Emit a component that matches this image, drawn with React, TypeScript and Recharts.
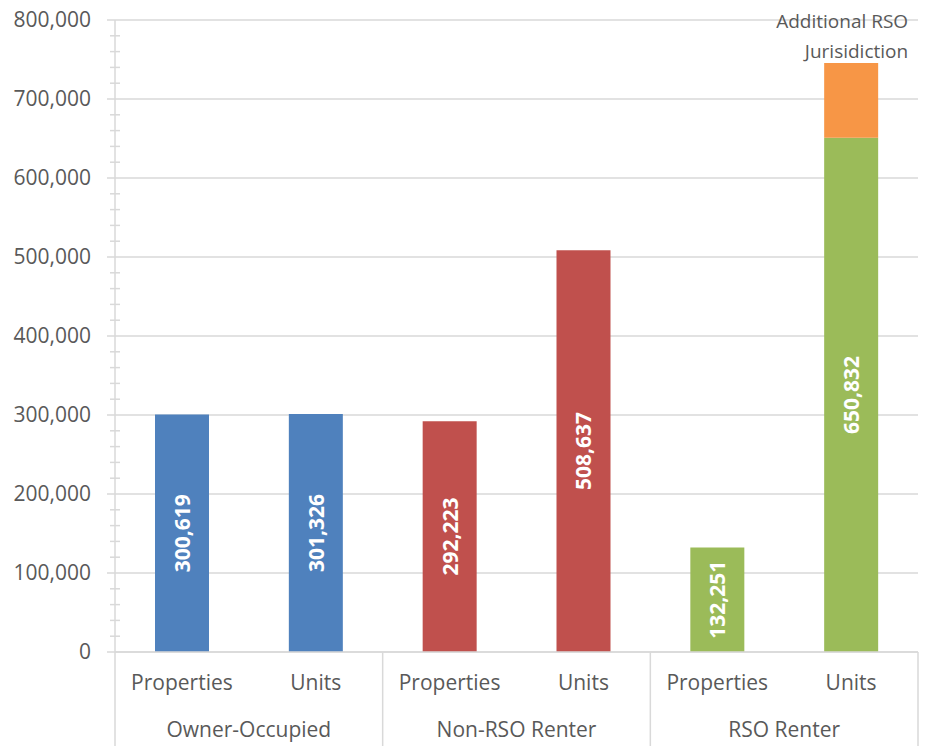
import { BarChart, Bar, XAxis, YAxis, CartesianGrid, Cell, LabelList } from 'recharts';

const categories = ['Properties', 'Units', 'Properties', 'Units', 'Properties', 'Units'];
const groups = ['Owner-Occupied', 'Owner-Occupied', 'Non-RSO Renter', 'Non-RSO Renter', 'RSO Renter', 'RSO Renter'];
const counts = [300619, 301326, 292223, 508637, 132251, 650832];
const additional = [0, 0, 0, 0, 0, 94800];
const barColors = ['#4F81BD', '#4F81BD', '#C0504D', '#C0504D', '#9BBB59', '#9BBB59'];
const majorTicks = [0, 100000, 200000, 300000, 400000, 500000, 600000, 700000, 800000];
const additionalLabel = ['Additional RSO', 'Jurisidiction'];

const minorTicks = majorTicks.flatMap((t, i) =>
  i === majorTicks.length - 1 ? [t] : [t, t + 20000, t + 40000, t + 60000, t + 80000]
);

const data = categories.map((c, i) => ({
  key: `${groups[i]}|${c}`,
  category: c,
  group: groups[i],
  count: counts[i],
  extra: additional[i],
}));

const TEXT = '#595959';
const GRID = '#d9d9d9';
const FONT = '"Open Sans", sans-serif';
const Y_MAX = 800000;

const YTick = (props: any) => {
  const { x, y, payload } = props;
  const v = payload.value as number;
  if (v % 100000 === 0) {
    return (
      <g>
        <line x1={x - 8} x2={x} y1={y} y2={y} stroke={GRID} strokeWidth={1.5} />
        <text x={x - 24} y={y} dy="0.35em" textAnchor="end" fill={TEXT} fontSize={21} fontFamily={FONT}>
          {v.toLocaleString('en-US')}
        </text>
      </g>
    );
  }
  return <line x1={x - 5} x2={x + 5} y1={y} y2={y} stroke={GRID} strokeWidth={1.5} />;
};

const XTick = (props: any) => {
  const { x, y, payload } = props;
  const i = payload.index as number;
  const half = payload.offset || 803 / 12;
  const row = data[i];
  return (
    <g>
      <text x={x} y={y + 38} textAnchor="middle" fill={TEXT} fontSize={21} fontFamily={FONT}>
        {row.category}
      </text>
      {i % 2 === 0 && (
        <>
          <line x1={x - half} x2={x - half} y1={y} y2={y + 94} stroke={GRID} strokeWidth={1.5} />
          <text x={x + half} y={y + 85} textAnchor="middle" fill={TEXT} fontSize={21} fontFamily={FONT}>
            {row.group}
          </text>
        </>
      )}
      {i === data.length - 1 && (
        <line x1={x + half} x2={x + half} y1={y} y2={y + 94} stroke={GRID} strokeWidth={1.5} />
      )}
    </g>
  );
};

const ValueLabel = (props: any) => {
  const { x, y, width, height, value } = props;
  if (!value) return null;
  const cx = x + width / 2;
  const cy = y + height / 2;
  return (
    <text
      x={cx}
      y={cy}
      transform={`rotate(-90 ${cx} ${cy})`}
      textAnchor="middle"
      dominantBaseline="central"
      fill="#ffffff"
      fontWeight="bold"
      fontSize={21}
      fontFamily={FONT}
    >
      {Number(value).toLocaleString('en-US')}
    </text>
  );
};

const ExtraLabel = (props: any) => {
  const { x, y, width, value } = props;
  if (!value) return null;
  const right = x + width / 2 + 57;
  return (
    <text textAnchor="end" fill={TEXT} fontSize={19} fontFamily={FONT}>
      <tspan x={right} y={y - 35}>{additionalLabel[0]}</tspan>
      <tspan x={right} y={y - 5}>{additionalLabel[1]}</tspan>
    </text>
  );
};

// grid only on the major ticks; minor ticks are drawn by the axis itself
const gridLines = ({ yAxis, offset }: any) =>
  majorTicks.map((t) =>
    yAxis && typeof yAxis.scale === 'function'
      ? yAxis.scale(t)
      : offset.top + offset.height * (1 - t / Y_MAX)
  );

export default function App() {
  return (
    <div style={{ width: 931, height: 746, margin: '-8px 0 0 -8px', fontFamily: FONT }}>
      <BarChart
        width={931}
        height={746}
        data={data}
        margin={{ top: 20, right: 13, left: 0, bottom: 0 }}
        barSize={54}
      >
        <CartesianGrid
          vertical={false}
          stroke={GRID}
          strokeWidth={1.5}
          horizontalCoordinatesGenerator={gridLines}
        />
        <XAxis
          dataKey="key"
          height={94}
          interval={0}
          tickLine={false}
          tickSize={0}
          tickMargin={0}
          axisLine={{ stroke: GRID, strokeWidth: 1.5 }}
          tick={<XTick />}
        />
        <YAxis
          width={115}
          domain={[0, Y_MAX]}
          ticks={minorTicks}
          interval={0}
          tickLine={false}
          tickSize={0}
          tickMargin={0}
          axisLine={{ stroke: GRID, strokeWidth: 1.5 }}
          tick={<YTick />}
        />
        <Bar dataKey="count" stackId="a" isAnimationActive={false}>
          {data.map((_, i) => (
            <Cell key={i} fill={barColors[i]} />
          ))}
          <LabelList dataKey="count" content={<ValueLabel />} />
        </Bar>
        <Bar dataKey="extra" stackId="a" fill="#F79646" isAnimationActive={false}>
          <LabelList dataKey="extra" content={<ExtraLabel />} />
        </Bar>
      </BarChart>
    </div>
  );
}
